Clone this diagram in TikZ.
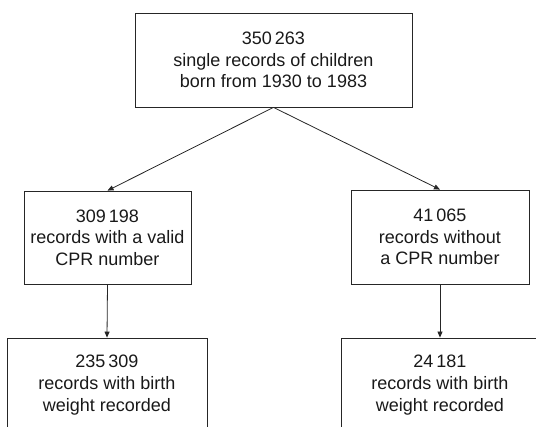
\documentclass[tikz,border=0pt]{standalone}
\usepackage{fontspec}
\setmainfont{Liberation Sans}
\usetikzlibrary{arrows.meta}
\begin{document}
\begin{tikzpicture}[x=1pt,y=-1pt,
  box/.style={draw=black!85,line width=0.8pt,rectangle,inner sep=0pt,align=center,
    font=\fontsize{18}{21.6}\selectfont,text=black!90},
  conn/.style={draw=black!85,line width=0.8pt,-{Triangle[length=6pt,width=5pt]}}]
\useasboundingbox (0,0) rectangle (536,427);
\begin{scope}
\clip (0,0) rectangle (536,427);
\node[box,minimum width=277pt,minimum height=94pt] (top) at (273.5,60) {350\,263\\single records of children\\born from 1930 to 1983};
\node[box,minimum width=167pt,minimum height=93pt] (ml) at (107.5,237.5) {309\,198\\records with a valid\\CPR number};
\node[box,minimum width=178pt,minimum height=94pt] (mr) at (440,237) {41\,065\\records without\\a CPR number};
\node[box,minimum width=200pt,minimum height=94pt] (bl) at (107,385) {235\,309\\records with birth\\weight recorded};
\node[box,minimum width=198pt,minimum height=94pt] (br) at (440,385) {24\,181\\records with birth\\weight recorded};
\draw[conn] (top.south) -- (ml.north);
\draw[conn] (top.south) -- (mr.north);
\draw[conn] (ml.south) -- (bl.north);
\draw[conn] (mr.south) -- (br.north);
\end{scope}
\end{tikzpicture}
\end{document}
